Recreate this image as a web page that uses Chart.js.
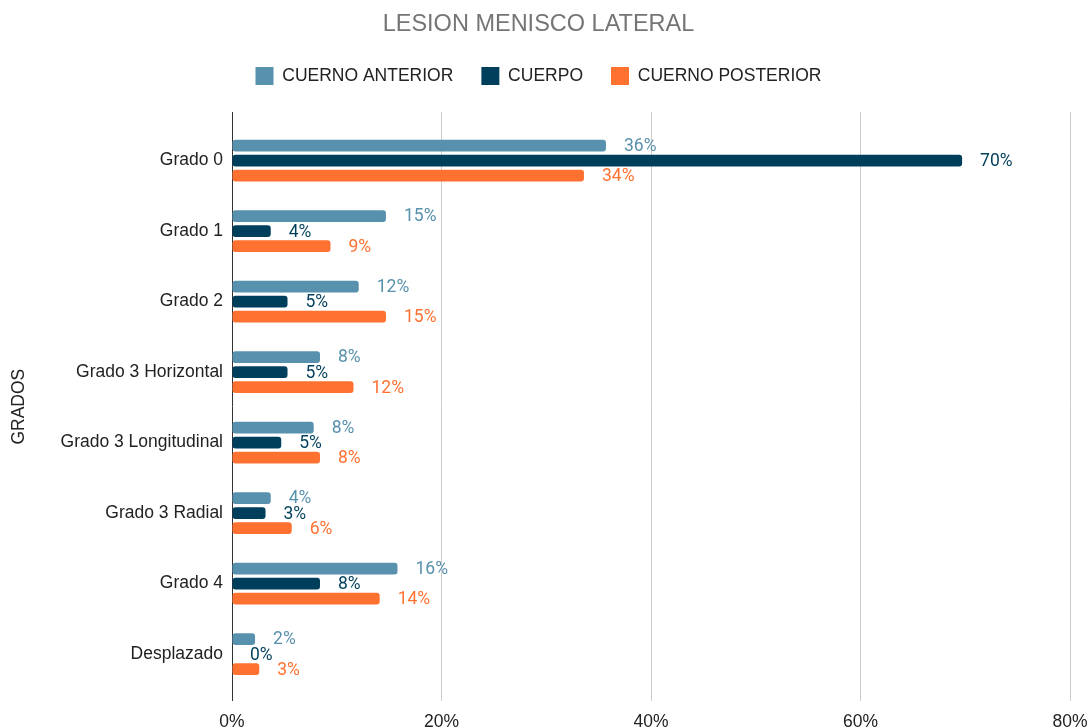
<!DOCTYPE html>
<html>
<head>
<meta charset="utf-8">
<script src="https://cdn.jsdelivr.net/npm/chart.js@4/dist/chart.umd.min.js"></script>
<style>
  html, body { margin: 0; padding: 0; background: #ffffff; }
  #wrap { width: 1091px; height: 727px; }
</style>
</head>
<body>
<div id="wrap"><canvas id="c" width="1091" height="727"></canvas></div>
<script>
const categories = ["Grado 0", "Grado 1", "Grado 2", "Grado 3 Horizontal", "Grado 3 Longitudinal", "Grado 3 Radial", "Grado 4", "Desplazado"];
const cuernoAnterior = [35.7, 14.7, 12.1, 8.4, 7.8, 3.7, 15.8, 2.2];
const cuerpo = [69.7, 3.7, 5.3, 5.3, 4.7, 3.2, 8.4, 0];
const cuernoPosterior = [33.6, 9.4, 14.7, 11.6, 8.4, 5.7, 14.1, 2.6];
const seriesNames = ["CUERNO ANTERIOR", "CUERPO", "CUERNO POSTERIOR"];
const xTicks = [0, 20, 40, 60, 80];

const COLORS = ["#5891ad", "#003f5c", "#ff7131"];
const SANS = "'Liberation Sans', Arial, sans-serif";
const PAD_TOP = 0.19;
const PAD_BOTTOM = 0.17;

const valueLabels = {
  id: 'valueLabels',
  afterDatasetsDraw(chart) {
    const ctx = chart.ctx;
    ctx.save();
    ctx.font = "17.5px Roboto, sans-serif";
    ctx.textAlign = 'left';
    ctx.textBaseline = 'middle';
    chart.data.datasets.forEach((ds, i) => {
      const meta = chart.getDatasetMeta(i);
      ctx.fillStyle = ds.backgroundColor;
      meta.data.forEach((el, j) => {
        ctx.fillText(Math.round(ds.data[j]) + '%', el.x + 18, el.y + 1);
      });
    });
    ctx.restore();
  }
};

new Chart(document.getElementById('c'), {
  type: 'bar',
  data: {
    labels: categories,
    datasets: [
      { label: seriesNames[0], data: cuernoAnterior, backgroundColor: COLORS[0] },
      { label: seriesNames[1], data: cuerpo, backgroundColor: COLORS[1] },
      { label: seriesNames[2], data: cuernoPosterior, backgroundColor: COLORS[2] }
    ]
  },
  options: {
    indexAxis: 'y',
    responsive: false,
    animation: false,
    devicePixelRatio: 1,
    layout: { padding: { left: 7, right: 21, top: 0, bottom: 0 } },
    datasets: {
      bar: { categoryPercentage: 0.64, barPercentage: 0.78, borderRadius: 3, borderSkipped: false }
    },
    plugins: {
      title: {
        display: true,
        text: 'LESION MENISCO LATERAL',
        color: '#757575',
        font: { family: SANS, size: 23.5, weight: 'normal' },
        padding: { top: 10.8, bottom: 0 }
      },
      subtitle: {
        display: true,
        text: '',
        weight: 500,
        font: { size: 10, lineHeight: 1.2 },
        padding: { top: 2.5, bottom: 2.5 }
      },
      legend: {
        display: true,
        position: 'top',
        labels: {
          color: '#222222',
          font: { family: SANS, size: 17.5 },
          boxWidth: 18,
          boxHeight: 18,
          padding: 28
        }
      },
      tooltip: { enabled: false }
    },
    scales: {
      x: {
        min: 0,
        max: 80,
        afterBuildTicks(scale) { scale.ticks = xTicks.map(v => ({ value: v })); },
        afterFit(scale) { scale.paddingLeft = 0; scale.paddingRight = 0; scale.height = 25.6; },
        ticks: {
          color: '#222222',
          font: { family: SANS, size: 17.5, lineHeight: 1.0 },
          padding: 12,
          callback: v => v + '%'
        },
        grid: {
          color: ctx => (ctx.tick && ctx.tick.value === 0) ? '#333333' : '#cccccc',
          lineWidth: 1,
          drawTicks: false
        },
        border: { display: false }
      },
      y: {
        afterBuildTicks(scale) {
          scale._startValue = -0.5 - PAD_TOP;
          scale._valueRange = categories.length + PAD_TOP + PAD_BOTTOM;
        },
        afterFit(scale) { scale.width = 225; },
        ticks: {
          color: '#222222',
          font: { family: SANS, size: 17.5 },
          padding: 9
        },
        grid: { display: false, drawTicks: false },
        border: { display: false },
        title: {
          display: true,
          text: 'GRADOS',
          color: '#222222',
          font: { family: SANS, size: 17.5 },
          padding: { top: 1.5, bottom: 0 }
        }
      }
    }
  },
  plugins: [valueLabels]
});
</script>
</body>
</html>
